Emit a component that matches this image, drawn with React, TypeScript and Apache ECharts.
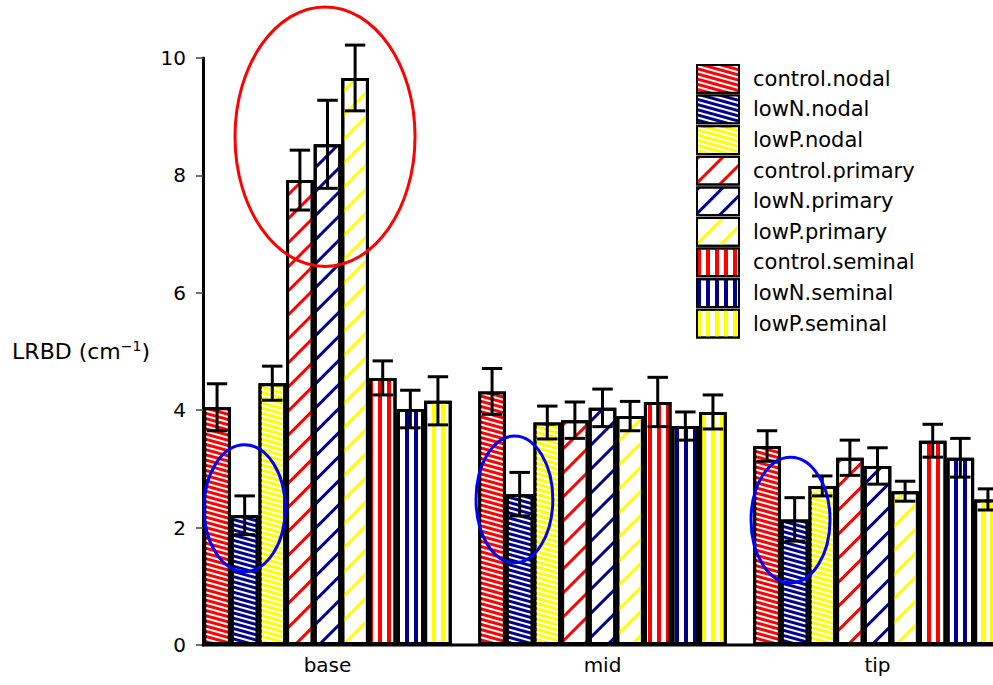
import React, { useEffect, useRef } from 'react';
import * as echarts from 'echarts';

const categories = ['base', 'mid', 'tip'];
const seriesNames = [
  'control.nodal', 'lowN.nodal', 'lowP.nodal',
  'control.primary', 'lowN.primary', 'lowP.primary',
  'control.seminal', 'lowN.seminal', 'lowP.seminal',
];
const yTicks = [0, 2, 4, 6, 8, 10];

// means (base, mid, tip)
const controlNodal = [4.05, 4.32, 3.39];
const lowNNodal = [2.21, 2.57, 2.14];
const lowPNodal = [4.46, 3.79, 2.71];
const controlPrimary = [7.92, 3.83, 3.19];
const lowNPrimary = [8.53, 4.04, 3.05];
const lowPPrimary = [9.66, 3.90, 2.62];
const controlSeminal = [4.55, 4.14, 3.48];
const lowNSeminal = [4.02, 3.73, 3.19];
const lowPSeminal = [4.16, 3.97, 2.48];

// standard errors (base, mid, tip)
const seControlNodal = [0.40, 0.39, 0.26];
const seLowNNodal = [0.33, 0.37, 0.37];
const seLowPNodal = [0.29, 0.28, 0.17];
const seControlPrimary = [0.51, 0.31, 0.30];
const seLowNPrimary = [0.75, 0.32, 0.31];
const seLowPPrimary = [0.56, 0.25, 0.17];
const seControlSeminal = [0.29, 0.42, 0.28];
const seLowNSeminal = [0.32, 0.24, 0.33];
const seLowPSeminal = [0.41, 0.29, 0.18];

const meanSets = [controlNodal, lowNNodal, lowPNodal, controlPrimary, lowNPrimary, lowPPrimary, controlSeminal, lowNSeminal, lowPSeminal];
const seSets = [seControlNodal, seLowNNodal, seLowPNodal, seControlPrimary, seLowNPrimary, seLowPPrimary, seControlSeminal, seLowNSeminal, seLowPSeminal];

// annotation ellipses: category index, offset (in bar widths), y centre, rx (bar widths), ry (y units), colour
const ellipseCats = [0, 0, 1, 2];
const ellipseOffsets = [-0.09, -3.0, -3.19, -3.15];
const ellipseY = [8.66, 2.33, 2.48, 2.13];
const ellipseRx = [3.26, 1.47, 1.39, 1.43];
const ellipseRy = [2.21, 1.08, 1.08, 1.07];
const ellipseColors = ['#FF0000', '#0000FF', '#0000FF', '#0000FF'];

const FONT = 'DejaVu Sans';
const RED = '#FF0000';
const NAVY = '#00008B';
const YELLOW = '#FFFF00';
const palette = [RED, NAVY, YELLOW];
const GAP = 0.0964;

function decalFor(kind: string, color: string) {
  if (kind === 'nodal') {
    return { symbol: 'rect', symbolSize: 1, color: '#FFFFFF', dashArrayX: [1, 0], dashArrayY: [2, 3], rotation: 0.27 };
  }
  if (kind === 'primary') {
    return { symbol: 'rect', symbolSize: 1, color, dashArrayX: [1, 0], dashArrayY: [3, 14], rotation: -Math.PI / 4 };
  }
  return { symbol: 'rect', symbolSize: 1, color, dashArrayX: [4, 5], dashArrayY: [1, 0], rotation: 0 };
}

export default function App() {
  const ref = useRef<HTMLDivElement>(null);
  useEffect(() => {
    document.body.style.margin = '0';
    const chart = echarts.init(ref.current!, null, { renderer: 'svg' });

    const barSeries = seriesNames.map((name, s) => {
      const kind = ['nodal', 'primary', 'seminal'][Math.floor(s / 3)];
      const color = palette[s % 3];
      return {
        type: 'bar',
        name,
        data: meanSets[s],
        barGap: '0%',
        barCategoryGap: (GAP * 100) + '%',
        z: 2,
        itemStyle: {
          color: kind === 'nodal' ? color : '#FFFFFF',
          borderColor: '#000000',
          borderWidth: 3,
          decal: decalFor(kind, color),
        },
        emphasis: { disabled: true },
      };
    });

    const errData: number[][] = [];
    seriesNames.forEach((_, s) => {
      categories.forEach((_c, i) => {
        errData.push([i, meanSets[s][i] - seSets[s][i], meanSets[s][i] + seSets[s][i], s]);
      });
    });

    const option: any = {
      animation: false,
      backgroundColor: '#FFFFFF',
      grid: { left: 190, width: 825, top: 58, height: 587, containLabel: false, outerBoundsMode: 'none' },
      legend: {
        orient: 'vertical',
        left: 696,
        top: 64,
        padding: 0,
        itemWidth: 42,
        itemHeight: 27.75,
        itemGap: 0.85,
        icon: 'rect',
        selectedMode: false,
        data: seriesNames,
        textStyle: { fontFamily: FONT, fontSize: 21, color: '#000000', padding: [0, 0, 0, 9] },
      },
      xAxis: {
        type: 'category',
        data: categories,
        axisLine: { show: false },
        axisTick: { show: false },
        axisLabel: { fontFamily: FONT, fontSize: 20, color: '#000000', margin: 10 },
      },
      yAxis: {
        type: 'value',
        min: yTicks[0],
        max: yTicks[yTicks.length - 1],
        interval: yTicks[1] - yTicks[0],
        offset: -13,
        splitLine: { show: false },
        axisLine: { show: true, lineStyle: { color: '#000000', width: 3 } },
        axisTick: { show: true, length: 7, lineStyle: { color: '#444444', width: 1.5 } },
        axisLabel: { fontFamily: FONT, fontSize: 20, color: '#000000', margin: 17 },
        name: '{a|LRBD (cm}{s|\u22121}{a|)}',
        nameLocation: 'middle',
        nameRotate: 0,
        nameGap: 53,
        nameTextStyle: {
          rich: {
            a: { fontFamily: FONT, fontSize: 22, color: '#000000' },
            s: { fontFamily: FONT, fontSize: 14, color: '#000000', verticalAlign: 'top', padding: [0, 0, 12, 0] },
          },
        },
      },
      series: [
        ...barSeries,
        {
          type: 'custom',
          name: 'errors',
          data: errData,
          encode: { x: 0, y: [1, 2] },
          z: 5,
          silent: true,
          renderItem: (_params: any, api: any) => {
            const i = api.value(0);
            const lo = api.value(1);
            const hi = api.value(2);
            const s = api.value(3);
            const band = api.size([1, 0])[0];
            const bw = (band * (1 - GAP)) / 9;
            const cx = api.coord([i, 0])[0] + (s - 4) * bw;
            const yHi = api.coord([i, hi])[1];
            const yLo = api.coord([i, lo])[1];
            const hw = bw * 0.37;
            const style = { stroke: '#000000', lineWidth: 3 };
            return {
              type: 'group',
              children: [
                { type: 'line', shape: { x1: cx, y1: yHi, x2: cx, y2: yLo }, style },
                { type: 'line', shape: { x1: cx - hw, y1: yHi, x2: cx + hw, y2: yHi }, style },
                { type: 'line', shape: { x1: cx - hw, y1: yLo, x2: cx + hw, y2: yLo }, style },
              ],
            };
          },
        },
      ],
    };
    chart.setOption(option);

    const p0 = chart.convertToPixel({ gridIndex: 0 }, [0, 0]) as number[];
    const p1 = chart.convertToPixel({ gridIndex: 0 }, [1, 0]) as number[];
    const pY = chart.convertToPixel({ gridIndex: 0 }, [0, 1]) as number[];
    const band = p1[0] - p0[0];
    const bw = (band * (1 - GAP)) / 9;
    const unit = p0[1] - pY[1];
    const graphics: any[] = [
      {
        type: 'line',
        z: 50,
        shape: { x1: p0[0] - 4.5 * bw - 1.5, y1: p0[1], x2: p0[0] + 3 * band, y2: p0[1] },
        style: { stroke: '#000000', lineWidth: 3 },
      },
    ];
    ellipseCats.forEach((c, k) => {
      const p = chart.convertToPixel({ gridIndex: 0 }, [c, ellipseY[k]]) as number[];
      graphics.push({
        type: 'ellipse',
        z: 100,
        shape: { cx: p[0] + ellipseOffsets[k] * bw, cy: p[1], rx: ellipseRx[k] * bw, ry: ellipseRy[k] * unit },
        style: { fill: 'none', stroke: ellipseColors[k], lineWidth: 3 },
      });
    });
    chart.setOption({ graphic: graphics });

    return () => chart.dispose();
  }, []);
  return <div ref={ref} style={{ width: 993, height: 685 }} />;
}
